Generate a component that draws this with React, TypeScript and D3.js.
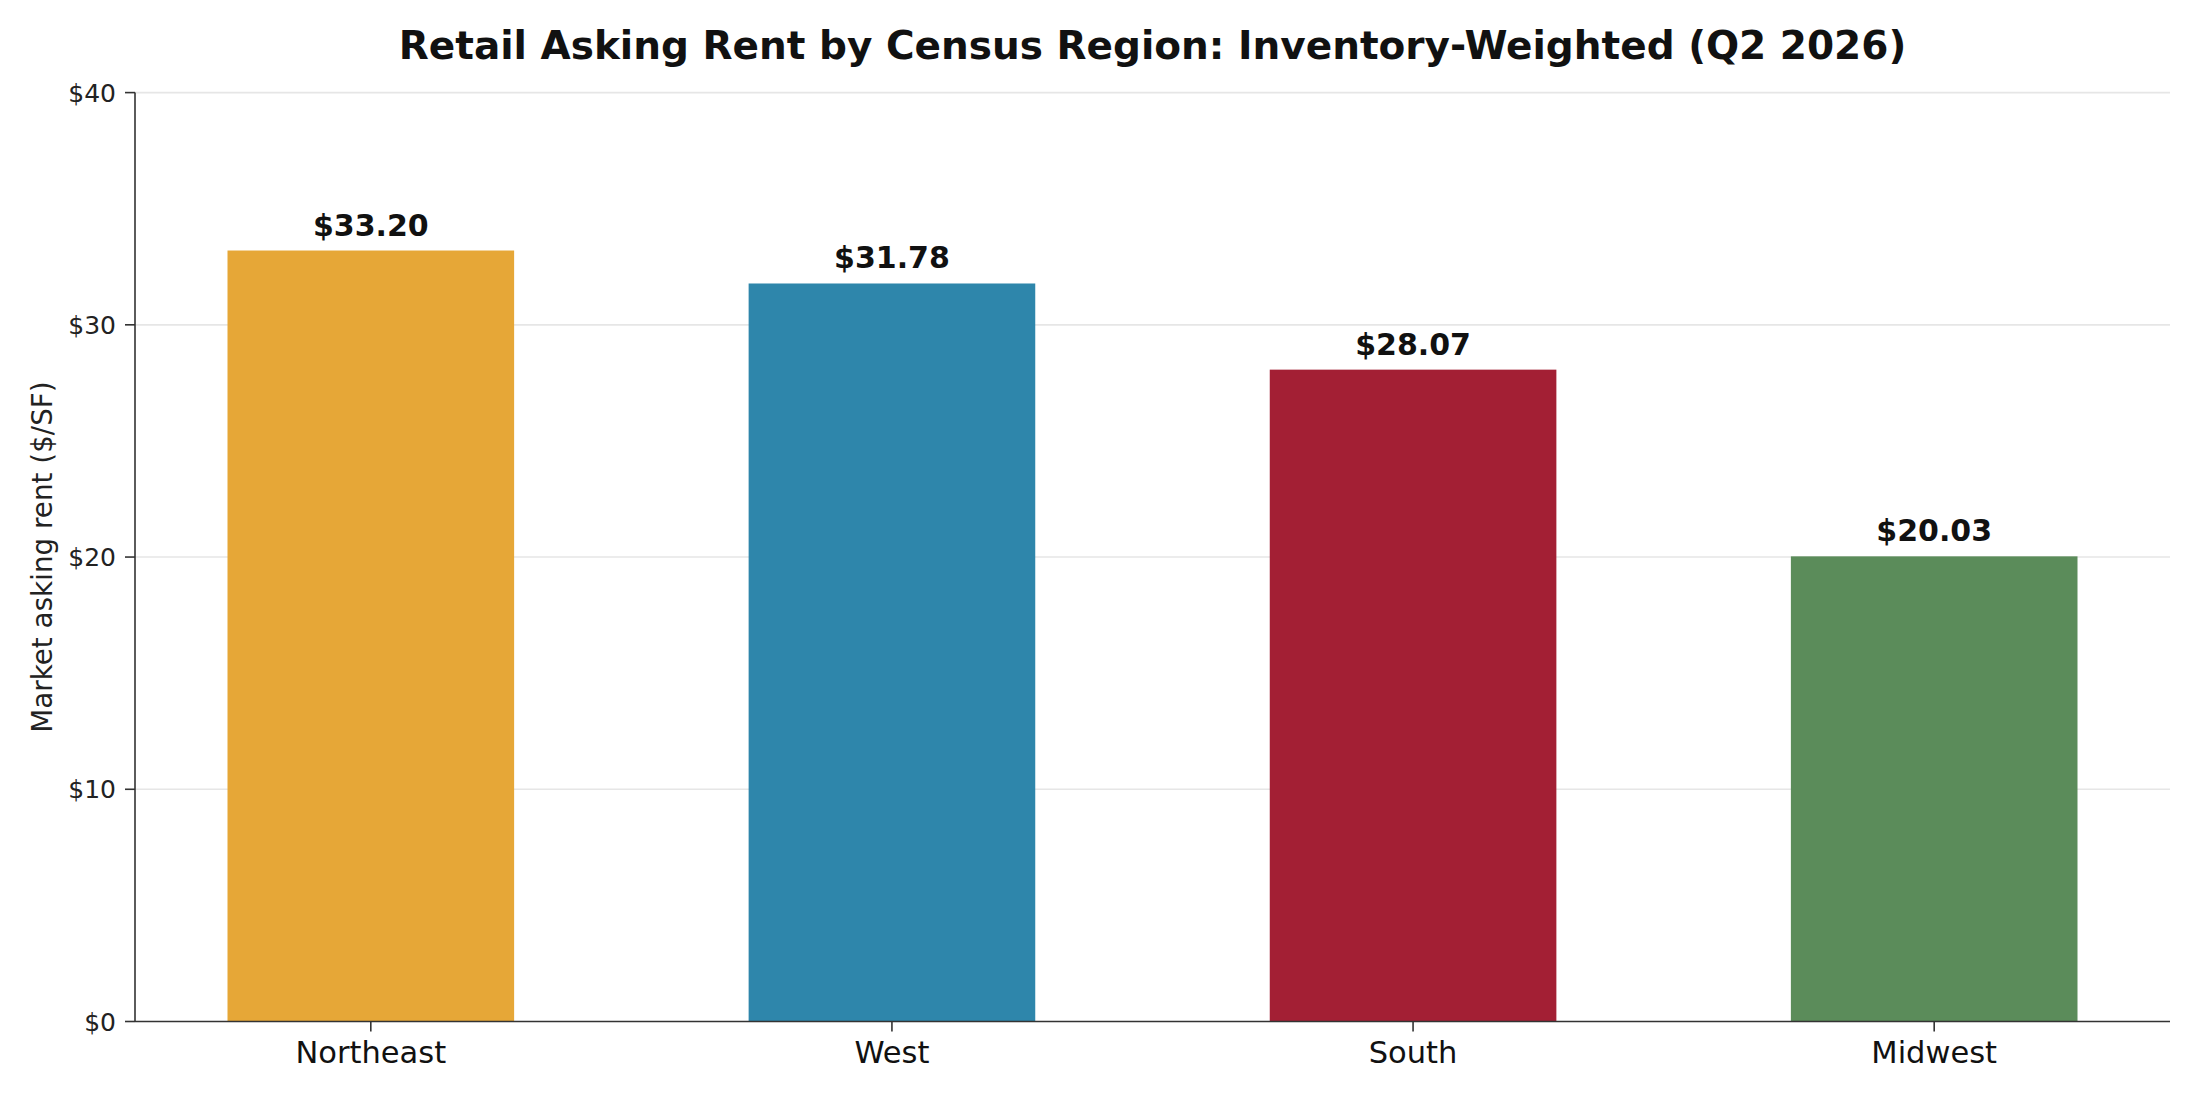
import * as d3 from 'd3';

const regions = ['Northeast', 'West', 'South', 'Midwest'];
const rents = [33.2, 31.78, 28.07, 20.03];
const barColors = ['#E6A737', '#2E86AB', '#A31F34', '#5B8C5A'];
const yTicks = [0, 10, 20, 30, 40];

const App = () => {
  const width = 2200;
  const height = 1100;
  const margin = { top: 92.6, right: 30, bottom: 78.5, left: 135 };
  const innerWidth = width - margin.left - margin.right;
  const innerHeight = height - margin.top - margin.bottom;
  const font = 'DejaVu Sans, sans-serif';

  const xScale = d3.scaleBand()
    .domain(regions)
    .range([0, innerWidth])
    .paddingInner(0.45)
    .paddingOuter(0.1775);

  const yScale = d3.scaleLinear()
    .domain([0, 40])
    .range([innerHeight, 0]);

  return (
    <svg width={width} height={height} style={{ display: 'block', position: 'absolute', left: 0, top: 0 }}>
      <rect width={width} height={height} fill="#fff" />
      <text
        x={margin.left + innerWidth / 2}
        y={59}
        textAnchor="middle"
        fontFamily={font}
        fontWeight="bold"
        fontSize={39}
        fill="#111"
      >
        Retail Asking Rent by Census Region: Inventory-Weighted (Q2 2026)
      </text>
      <text
        transform={`translate(42, ${margin.top + innerHeight / 2}) rotate(-90)`}
        textAnchor="middle"
        dominantBaseline="central"
        fontFamily={font}
        fontSize={27.8}
        fill="#222"
      >
        Market asking rent ($/SF)
      </text>
      <g transform={`translate(${margin.left}, ${margin.top})`}>
        {yTicks.map((t) => (
          <g key={t} transform={`translate(0, ${yScale(t)})`}>
            {t > 0 && (
              <line x1={0} x2={innerWidth} y1={0} y2={0} stroke="#e6e6e6" strokeWidth={1.6} />
            )}
            <line x1={-10} x2={0} y1={0} y2={0} stroke="#333" strokeWidth={1.6} />
            <text
              x={-19}
              y={0}
              dy="0.36em"
              textAnchor="end"
              fontFamily={font}
              fontSize={25}
              fill="#222"
            >
              {`$${t}`}
            </text>
          </g>
        ))}
        {regions.map((r, i) => (
          <g key={r}>
            <rect
              x={xScale(r)}
              y={yScale(rents[i])}
              width={xScale.bandwidth()}
              height={innerHeight - yScale(rents[i])}
              fill={barColors[i]}
            />
            <text
              x={xScale(r)! + xScale.bandwidth() / 2}
              y={yScale(rents[i]) - 15}
              textAnchor="middle"
              fontFamily={font}
              fontWeight="bold"
              fontSize={30}
              fill="#111"
            >
              {`$${rents[i].toFixed(2)}`}
            </text>
            <line
              x1={xScale(r)! + xScale.bandwidth() / 2}
              x2={xScale(r)! + xScale.bandwidth() / 2}
              y1={innerHeight}
              y2={innerHeight + 10}
              stroke="#333"
              strokeWidth={1.6}
            />
            <text
              x={xScale(r)! + xScale.bandwidth() / 2}
              y={innerHeight + 42}
              textAnchor="middle"
              fontFamily={font}
              fontSize={30.5}
              fill="#111"
            >
              {r}
            </text>
          </g>
        ))}
        <line x1={0} x2={0} y1={0} y2={innerHeight} stroke="#333" strokeWidth={1.6} />
        <line x1={0} x2={innerWidth} y1={innerHeight} y2={innerHeight} stroke="#333" strokeWidth={1.6} />
      </g>
    </svg>
  );
};

export default App;
